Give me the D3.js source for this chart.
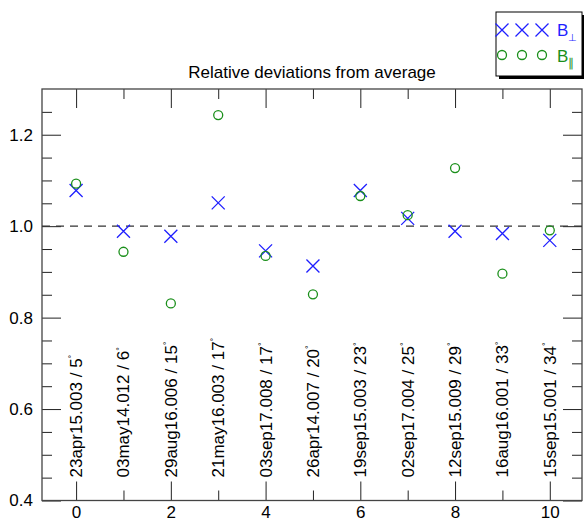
<!DOCTYPE html>
<html>
<head>
<meta charset="utf-8">
<script src="https://cdn.jsdelivr.net/npm/d3@7"></script>
<style>
  body { margin: 0; background: #fff; }
  svg { font-family: "Liberation Sans", Arial, Helvetica, sans-serif; }
</style>
</head>
<body>
<div id="chart"></div>
<script>
// values
const runIds = ["23apr15.003", "03may14.012", "29aug16.006", "21may16.003", "03sep17.008",
                "26apr14.007", "19sep15.003", "02sep17.004", "12sep15.009", "16aug16.001", "15sep15.001"];
const angles = [5, 6, 15, 17, 17, 20, 23, 25, 29, 33, 34];
const bPerp = [1.078, 0.989, 0.978, 1.051, 0.946, 0.913, 1.078, 1.017, 0.989, 0.984, 0.969];
const bPar  = [1.093, 0.944, 0.831, 1.243, 0.935, 0.851, 1.066, 1.024, 1.127, 0.896, 0.991];

const xMajor = [0, 2, 4, 6, 8, 10];
const xMinor = [1, 3, 5, 7, 9];
const yMajor = [0.4, 0.6, 0.8, 1.0, 1.2];
const yMinor = [0.45, 0.5, 0.55, 0.65, 0.7, 0.75, 0.85, 0.9, 0.95, 1.05, 1.1, 1.15, 1.25];

const W = 584, H = 524;
const frame = { left: 42, right: 582, top: 89, bottom: 500.5 };
const blue = "#1f1fff", green = "#1a8f1a";

const svg = d3.select("#chart").append("svg")
  .attr("width", W).attr("height", H);

const x = d3.scaleLinear().domain([-0.72, 10.68]).range([frame.left, frame.right]);
const y = d3.scaleLinear().domain([0.4, 1.3]).range([frame.bottom, frame.top]);

const plotH = frame.bottom - frame.top, plotW = frame.right - frame.left;

function tickAxis(axis, transform, vals, len, fmt) {
  const g = svg.append("g")
    .attr("transform", transform)
    .style("color", "#222")
    .call(axis.tickValues(vals).tickSize(-len).tickFormat(fmt || ""));
  g.select(".domain").remove();
  g.selectAll("line").attr("stroke-width", 1);
  g.selectAll("text").style("font-size", "17px").attr("fill", "#000");
  return g;
}

// bottom / top
tickAxis(d3.axisBottom(x).tickPadding(5), `translate(0,${frame.bottom})`, xMajor, 19, d3.format("d"));
tickAxis(d3.axisBottom(x), `translate(0,${frame.bottom})`, xMinor, 10);
tickAxis(d3.axisTop(x), `translate(0,${frame.top})`, xMajor, 19);
tickAxis(d3.axisTop(x), `translate(0,${frame.top})`, xMinor, 10);
// left / right
tickAxis(d3.axisLeft(y).tickPadding(9), `translate(${frame.left},0)`, yMajor, 19, d => d.toFixed(1));
tickAxis(d3.axisLeft(y), `translate(${frame.left},0)`, yMinor, 10);
tickAxis(d3.axisRight(y), `translate(${frame.right},0)`, yMajor, 19);
tickAxis(d3.axisRight(y), `translate(${frame.right},0)`, yMinor, 10);

// frame
svg.append("rect")
  .attr("x", frame.left).attr("y", frame.top)
  .attr("width", plotW).attr("height", plotH)
  .attr("fill", "none").attr("stroke", "#444").attr("stroke-width", 1.3);

// reference line at 1
svg.append("line")
  .attr("x1", frame.left).attr("x2", frame.right)
  .attr("y1", y(1)).attr("y2", y(1))
  .attr("stroke", "#333").attr("stroke-width", 1.2)
  .attr("stroke-dasharray", "8,6");

// run labels, rotated, sitting above each tick
const labels = svg.append("g").selectAll("text")
  .data(runIds)
  .enter()
  .append("text")
  .attr("transform", (d, i) => `translate(${x(i)},${frame.bottom - 23}) rotate(-90)`)
  .attr("dy", "0.35em")
  .style("font-size", "17px")
  .attr("fill", "#000");
labels.append("tspan").text((d, i) => d + " / " + angles[i]);
labels.append("tspan")
  .attr("dy", "-0.75em")
  .style("font-size", "9px")
  .text("°");

// title
svg.append("text")
  .attr("x", (frame.left + frame.right) / 2).attr("y", 78)
  .attr("text-anchor", "middle")
  .style("font-size", "17px")
  .text("Relative deviations from average");

// markers
const cross = "M-6.5,-6.5L6.5,6.5M-6.5,6.5L6.5,-6.5";

svg.append("g").selectAll("path")
  .data(bPerp)
  .enter()
  .append("path")
  .attr("d", cross)
  .attr("transform", (d, i) => `translate(${x(i)},${y(d)})`)
  .attr("stroke", blue).attr("stroke-width", 1.3).attr("fill", "none");

svg.append("g").selectAll("circle")
  .data(bPar)
  .enter()
  .append("circle")
  .attr("cx", (d, i) => x(i)).attr("cy", d => y(d))
  .attr("r", 4.5)
  .attr("stroke", green).attr("stroke-width", 1.3).attr("fill", "none");

// legend
const lg = svg.append("g");
lg.append("rect").attr("x", 499).attr("y", 15).attr("width", 86).attr("height", 64).attr("fill", "#000");
lg.append("rect").attr("x", 496).attr("y", 12).attr("width", 86).attr("height", 64)
  .attr("fill", "#fff").attr("stroke", "#000").attr("stroke-width", 1);

[502, 522, 542].forEach(cx => {
  lg.append("path").attr("d", cross).attr("transform", `translate(${cx},30)`)
    .attr("stroke", blue).attr("stroke-width", 1.3).attr("fill", "none");
  lg.append("circle").attr("cx", cx).attr("cy", 55).attr("r", 4.5)
    .attr("stroke", green).attr("stroke-width", 1.3).attr("fill", "none");
});

const t1 = lg.append("text").attr("x", 557).attr("y", 36).attr("fill", blue).style("font-size", "17px");
t1.append("tspan").text("B");
t1.append("tspan").attr("dy", "5").style("font-size", "10px").text("⊥");

const t2 = lg.append("text").attr("x", 557).attr("y", 62).attr("fill", green).style("font-size", "17px");
t2.append("tspan").text("B");
t2.append("tspan").attr("dy", "5").style("font-size", "12px").text("∥");
</script>
</body>
</html>
